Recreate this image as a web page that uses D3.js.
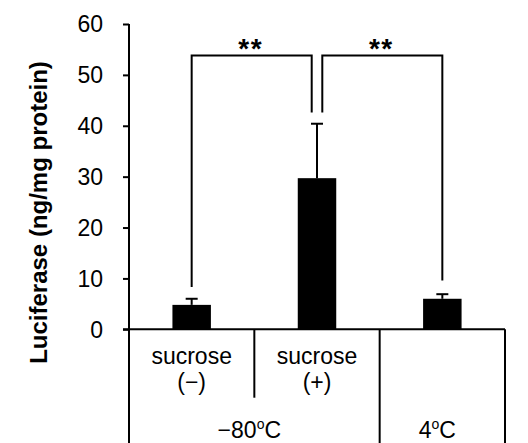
<!DOCTYPE html>
<html><head><meta charset="utf-8">
<script src="https://cdn.jsdelivr.net/npm/d3@7/dist/d3.min.js"></script>
<style>body{margin:0;background:#fff}svg{display:block}text{font-family:Arial,"Liberation Sans",sans-serif}</style>
</head><body><svg id="c" width="528" height="443"></svg>
<script>
const categories = ["s-", "s+", "4C"];
const means = [4.8, 29.7, 6.0];
const errors = [1.2, 10.7, 0.9];
const yTicks = [0, 10, 20, 30, 40, 50, 60];
const subLabels = [["sucrose", "(−)"], ["sucrose", "(+)"], ["", ""]];
const groupLabels = [{text: "−80", from: 0, to: 1}, {text: "4", from: 2, to: 2}];
// significance brackets: [from, to, yFrom, yTop, yTo, label]
const brackets = [[0, 1, 8.3, 53.8, 42.6, "**"], [1, 2, 42.6, 53.8, 9.6, "**"]];

const svg = d3.select("#c");
const x = d3.scaleBand().domain(categories).range([129, 505]).padding(0);
const y = d3.scaleLinear().domain([0, 60]).range([329.3, 24]);
const bw = x.bandwidth() * 0.307;
const cx = c => x(c) + x.bandwidth() / 2;

// y axis
const ya = svg.append("g").attr("transform", "translate(129,0)")
  .call(d3.axisLeft(y).tickValues(yTicks).tickSize(6).tickPadding(20).tickSizeOuter(0));
ya.select(".domain").remove();
ya.selectAll("line").attr("stroke", "#000").attr("stroke-width", 2);
ya.selectAll("text").attr("font-size", 23).attr("fill", "#000").attr("dy", "0.34em");
svg.append("line").attr("x1", 129).attr("x2", 129).attr("y1", y(60)).attr("y2", 443).attr("stroke", "#000").attr("stroke-width", 2);
// x axis
svg.append("line").attr("x1", 123).attr("x2", 505).attr("y1", y(0)).attr("y2", y(0)).attr("stroke", "#000").attr("stroke-width", 2);

// bars
svg.selectAll("rect.bar").data(categories).join("rect")
  .attr("x", c => cx(c) - bw / 2).attr("width", bw)
  .attr("y", (c, i) => y(means[i])).attr("height", (c, i) => y(0) - y(means[i]))
  .attr("fill", "#000");
// error bars
categories.forEach((c, i) => {
  const top = y(means[i] + errors[i]);
  svg.append("line").attr("x1", cx(c)).attr("x2", cx(c)).attr("y1", y(means[i])).attr("y2", top).attr("stroke", "#000").attr("stroke-width", 2);
  svg.append("line").attr("x1", cx(c) - 6).attr("x2", cx(c) + 6).attr("y1", top).attr("y2", top).attr("stroke", "#000").attr("stroke-width", 2);
});

// brackets
brackets.forEach(([a, b, y1, yt, y2, lab], k) => {
  const off = 5.3;
  const xa = cx(categories[a]) + (k === 1 ? off : 0);
  const xb = cx(categories[b]) - (k === 0 ? off : 0);
  svg.append("path").attr("d", `M${xa},${y(y1)}V${y(yt)}H${xb}V${y(y2)}`)
    .attr("fill", "none").attr("stroke", "#000").attr("stroke-width", 2);
  svg.append("text").attr("x", (xa + xb) / 2 - 1).attr("y", y(yt) + 2).attr("text-anchor", "middle")
    .attr("font-size", 28).attr("font-weight", "bold").attr("letter-spacing", 1.5).text(lab);
});

// table lines
svg.append("line").attr("x1", x(categories[1])).attr("x2", x(categories[1])).attr("y1", y(0)).attr("y2", 397.7).attr("stroke", "#000").attr("stroke-width", 2);
[x(categories[2]), 505].forEach(xx => svg.append("line").attr("x1", xx).attr("x2", xx).attr("y1", y(0)).attr("y2", 443).attr("stroke", "#000").attr("stroke-width", 2));

// sub labels
categories.forEach((c, i) => {
  svg.append("text").attr("x", cx(c)).attr("y", 364).attr("text-anchor", "middle").attr("font-size", 23).text(subLabels[i][0]);
  svg.append("text").attr("x", cx(c)).attr("y", 390).attr("text-anchor", "middle").attr("font-size", 23).text(subLabels[i][1]);
});
// group labels
groupLabels.forEach(g => {
  const x0 = x(categories[g.from]), x1 = x(categories[g.to]) + x.bandwidth();
  const t = svg.append("text").attr("x", (x0 + x1) / 2 - 5).attr("y", 438).attr("text-anchor", "middle").attr("font-size", 23);
  t.append("tspan").text(g.text);
  t.append("tspan").attr("font-size", 14).attr("dy", -9).text("o");
  t.append("tspan").attr("dy", 9).text("C");
});

// y label
svg.append("text").attr("transform", "translate(47,212.5) rotate(-90)").attr("text-anchor", "middle")
  .attr("font-size", 24).attr("font-weight", "bold").text("Luciferase (ng/mg protein)");
</script></body></html>
